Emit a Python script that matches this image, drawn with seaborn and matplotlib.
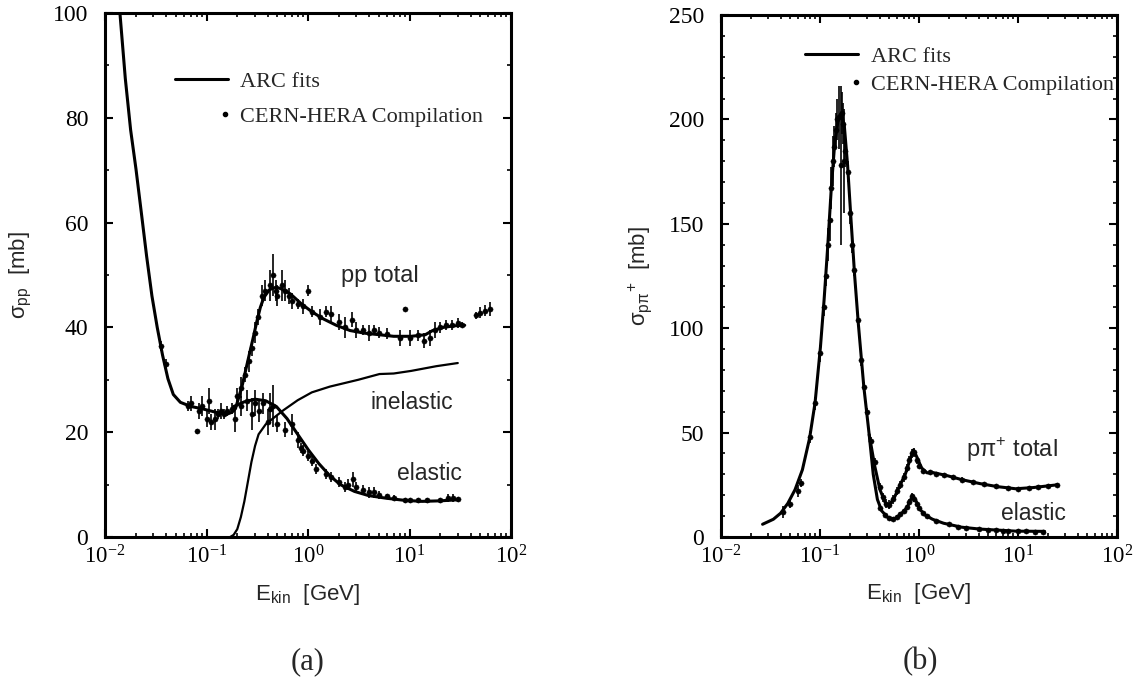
import numpy as np
import pandas as pd
import matplotlib
matplotlib.use("Agg")
import matplotlib.pyplot as plt
import seaborn as sns
from matplotlib.lines import Line2D
from matplotlib.legend_handler import HandlerBase
from matplotlib.ticker import LogLocator, MultipleLocator, NullFormatter

# ---------------- data : panel (a) p-p ----------------
pp_tot_fit_E = [0.01403, 0.01585, 0.01788, 0.0202, 0.0228, 0.0257, 0.0290, 0.0327, 0.0369, 0.0417,
                0.0471, 0.0553, 0.0705, 0.0895, 0.124, 0.157, 0.178, 0.193, 0.209, 0.226,
                0.245, 0.266, 0.289, 0.313, 0.339, 0.367, 0.417, 0.488, 0.57, 0.67,
                0.86, 1.09, 1.39, 1.90, 2.6, 3.6, 5.06, 6.98, 10.4, 14.3,
                16.9, 21.6, 27.5, 35.0]
pp_tot_fit_s = [100.0, 87.5, 77.7, 70.2, 61.9, 53.6, 46.0, 40.0, 34.7, 30.2,
                27.2, 25.7, 24.9, 24.5, 23.8, 23.4, 23.8, 24.5, 26.8, 29.1,
                32.1, 35.1, 38.1, 41.1, 43.8, 45.7, 47.2, 47.7, 47.2, 46.4,
                44.5, 43.0, 41.7, 40.4, 39.4, 38.9, 38.6, 38.3, 38.3, 38.6,
                39.4, 40.0, 40.3, 40.4]

pp_el_fit_E = [0.185, 0.236, 0.301, 0.383, 0.488, 0.621, 0.791, 1.01, 1.28, 1.64,
               2.08, 2.87, 3.96, 5.90, 8.9, 13.3, 19.9, 29.9]
pp_el_fit_s = [24.9, 25.8, 26.3, 26.0, 24.9, 22.6, 19.6, 16.6, 14.0, 11.7,
               10.0, 8.7, 7.9, 7.4, 7.0, 6.8, 6.9, 7.1]

pp_inel_fit_E = [0.171, 0.185, 0.201, 0.218, 0.236, 0.256, 0.277, 0.301, 0.326, 0.383,
                 0.450, 0.573, 0.791, 1.09, 1.64, 3.12, 5.06, 6.98, 10.4, 18.4, 29.9]
pp_inel_fit_s = [0.0, 0.4, 1.5, 3.8, 6.8, 10.6, 14.3, 17.4, 19.6, 21.5,
                 22.6, 24.2, 26.1, 27.6, 28.7, 30.0, 31.1, 31.2, 31.7, 32.6, 33.2]

pp_tot_E = [0.0355, 0.040, 0.065, 0.070, 0.080, 0.085, 0.090, 0.100, 0.105, 0.110,
            0.120, 0.130, 0.140, 0.150, 0.160, 0.180, 0.190, 0.20, 0.22, 0.24,
            0.26, 0.28, 0.30, 0.32, 0.35, 0.38, 0.42, 0.45, 0.48, 0.50,
            0.55, 0.60, 0.65, 0.70, 0.80, 0.90, 1.00, 1.10, 1.30, 1.50,
            1.70, 2.00, 2.30, 2.70, 3.00, 3.50, 4.00, 4.50, 5.00, 6.00,
            8.00, 9.00, 10.0, 12.0, 14.0, 16.0, 18.0, 20.0, 23.0, 26.0,
            30.0, 33.0, 45.0, 50.0, 55.0, 62.0]
pp_tot_s = [36.5, 33.0, 25.0, 25.5, 20.2, 24.0, 25.0, 22.5, 26.0, 22.0,
            22.5, 23.5, 24.0, 23.5, 24.0, 24.5, 22.5, 27.0, 28.5, 31.0,
            33.5, 36.0, 39.0, 42.0, 46.0, 47.0, 48.0, 50.0, 47.0, 46.0,
            48.0, 47.0, 46.0, 45.0, 44.5, 44.0, 47.0, 43.0, 42.0, 43.0,
            42.5, 41.0, 40.0, 41.5, 39.5, 39.5, 39.0, 39.5, 39.0, 38.8,
            38.0, 43.5, 38.0, 38.5, 37.5, 38.0, 39.5, 40.0, 40.5, 40.5,
            40.8, 40.5, 42.3, 42.8, 43.2, 43.5]
pp_tot_err = [1.0, 1.0, 1.0, 1.5, 0.5, 1.5, 2.0, 1.5, 2.5, 1.5,
              2.0, 1.0, 1.5, 1.0, 1.0, 1.0, 2.5, 1.5, 2.0, 1.5,
              2.0, 1.5, 2.0, 1.5, 2.0, 2.0, 3.0, 4.0, 2.0, 2.0,
              3.0, 2.0, 1.5, 1.5, 1.0, 1.5, 1.0, 1.0, 1.5, 1.0,
              1.5, 1.5, 2.0, 1.5, 1.5, 1.0, 1.5, 1.0, 1.0, 1.0,
              1.5, 0.4, 1.5, 1.0, 1.5, 1.5, 1.5, 1.0, 1.0, 1.0,
              1.0, 0.5, 0.7, 1.0, 1.0, 1.3]

pp_el_E = [0.22, 0.25, 0.28, 0.30, 0.33, 0.36, 0.40, 0.42, 0.45, 0.50,
           0.60, 0.70, 0.80, 0.85, 0.90, 1.00, 1.10, 1.20, 1.50, 1.70,
           2.00, 2.30, 2.50, 2.80, 3.00, 3.50, 4.00, 4.50, 5.00, 6.00,
           7.00, 9.00, 10.0, 12.0, 15.0, 20.0, 24.0, 27.0, 30.0]
pp_el_s = [25.0, 26.0, 23.5, 25.5, 24.0, 25.5, 22.0, 24.5, 25.0, 21.5,
           20.5, 21.5, 18.5, 17.0, 16.5, 15.5, 14.5, 13.0, 12.0, 11.5,
           10.5, 9.5, 10.0, 11.0, 9.5, 9.0, 8.5, 8.5, 8.0, 7.8,
           7.5, 7.0, 7.0, 7.0, 7.0, 7.0, 7.5, 7.5, 7.2]
pp_el_err = [2.0, 2.0, 3.0, 2.5, 2.0, 2.0, 2.5, 3.0, 4.0, 1.5,
             1.5, 2.0, 1.5, 1.0, 1.0, 1.0, 1.0, 1.0, 1.0, 1.0,
             1.0, 1.0, 1.0, 1.5, 1.0, 1.0, 1.0, 1.0, 0.7, 0.5,
             0.5, 0.5, 0.5, 0.5, 0.5, 0.5, 0.8, 0.8, 0.5]

# ---------------- data : panel (b) p-pi+ ----------------
ppi_tot_fit_E = [0.0263, 0.0338, 0.040, 0.0473, 0.056, 0.0664, 0.0785, 0.0892, 0.101, 0.110,
                 0.120, 0.130, 0.141, 0.154, 0.164, 0.176, 0.190, 0.206, 0.224, 0.244,
                 0.277, 0.314, 0.357, 0.403, 0.459, 0.50, 0.565, 0.64, 0.73, 0.81,
                 0.88, 0.96, 1.06, 1.21, 1.37, 1.92, 2.69, 4.1, 6.24, 9.5,
                 14.4, 25.0]
ppi_tot_fit_s = [6.1, 8.5, 11.4, 16.1, 22.7, 32.2, 47.3, 64.4, 90.9, 113.6,
                 140.0, 167.0, 189.0, 201.0, 203.0, 197.0, 178.0, 151.5, 125.0, 102.0,
                 72.0, 49.0, 34.0, 22.7, 16.1, 15.2, 19.0, 24.6, 30.3, 37.0,
                 41.7, 37.9, 33.1, 30.7, 30.9, 29.4, 27.5, 25.6, 24.1, 23.1,
                 23.7, 25.0]

ppi_el_fit_E = [0.314, 0.345, 0.38, 0.42, 0.48, 0.52, 0.59, 0.67, 0.76, 0.86,
                0.94, 1.02, 1.16, 1.37, 1.77, 2.69, 4.1, 9.5, 18.5]
ppi_el_fit_s = [49.0, 30.0, 18.0, 12.5, 9.5, 8.5, 9.1, 11.4, 14.2, 19.9,
                17.0, 13.3, 10.4, 8.5, 6.6, 4.7, 3.8, 2.8, 2.7]

ppi_tot_E = [0.042, 0.050, 0.060, 0.065, 0.080, 0.090, 0.100, 0.110, 0.115, 0.120,
             0.125, 0.130, 0.135, 0.140, 0.145, 0.150, 0.155, 0.162, 0.165, 0.170,
             0.175, 0.180, 0.190, 0.200, 0.210, 0.220, 0.240, 0.260, 0.280, 0.300,
             0.330, 0.360, 0.400, 0.430, 0.460, 0.500, 0.550, 0.600, 0.650, 0.700,
             0.750, 0.800, 0.850, 0.900, 0.950, 1.00, 1.10, 1.30, 1.50, 1.80,
             2.20, 2.70, 3.50, 4.50, 6.00, 8.00, 10.0, 13.0, 16.0, 20.0, 25.0]
ppi_tot_s = [12.0, 16.0, 22.0, 26.0, 48.0, 64.0, 88.0, 110.0, 125.0, 140.0,
             152.0, 167.0, 180.0, 187.0, 195.0, 200.0, 201.0, 178.0, 203.0, 198.0,
             180.0, 185.0, 175.0, 155.0, 140.0, 128.0, 104.0, 85.0, 72.0, 60.0,
             46.0, 36.0, 24.0, 19.0, 16.0, 15.5, 18.0, 22.0, 25.0, 28.5,
             33.0, 37.0, 40.0, 40.5, 37.0, 34.0, 31.5, 31.0, 30.0, 29.5,
             28.5, 27.5, 26.5, 25.5, 24.2, 23.5, 23.0, 23.5, 24.0, 24.5, 25.0]
ppi_tot_err = [3.0, 2.0, 3.0, 2.0, 3.0, 3.0, 4.0, 4.0, 5.0, 8.0,
               10.0, 10.0, 12.0, 10.0, 8.0, 10.0, 15.0, 38.0, 10.0, 10.0,
               25.0, 8.0, 5.0, 5.0, 4.0, 3.0, 3.0, 3.0, 2.0, 2.0,
               2.0, 2.0, 2.0, 2.0, 2.0, 2.0, 2.0, 2.0, 2.0, 2.0,
               2.0, 2.0, 2.0, 2.0, 2.0, 1.0, 1.0, 1.0, 1.0, 1.0,
               1.0, 1.0, 1.0, 1.0, 1.0, 0.7, 0.7, 0.7, 0.7, 0.7, 0.7]

ppi_el_E = [0.40, 0.45, 0.50, 0.55, 0.60, 0.65, 0.70, 0.75, 0.80, 0.85,
            0.90, 0.95, 1.00, 1.10, 1.20, 1.50, 2.00, 2.50, 3.00, 4.00,
            5.00, 6.00, 7.00, 8.00, 10.0, 12.0, 15.0, 18.0]
ppi_el_s = [14.0, 10.5, 9.0, 8.8, 9.5, 11.0, 12.5, 14.5, 17.0, 19.5,
            18.0, 16.0, 14.0, 11.5, 10.0, 7.5, 6.0, 5.0, 4.5, 4.0,
            3.5, 3.3, 3.0, 3.0, 2.8, 2.7, 2.6, 2.5]
ppi_el_err = [1.0, 1.0, 1.0, 1.0, 1.0, 1.0, 1.0, 1.0, 1.0, 1.5,
              1.0, 1.0, 1.0, 1.0, 1.0, 0.7, 0.5, 0.5, 0.5, 0.5,
              0.5, 0.5, 0.5, 0.5, 0.5, 0.5, 0.5, 0.5]

legend_labels = ["ARC fits", "CERN-HERA Compilation"]

# ---------------- style ----------------
sns.set_theme(style="ticks")
plt.rcParams.update({
    "font.family": ["Liberation Sans", "DejaVu Sans"],
    "axes.linewidth": 2.0,
    "axes.edgecolor": "black",
    "xtick.direction": "in", "ytick.direction": "in",
    "xtick.top": True, "ytick.right": True,
    "xtick.major.size": 6, "xtick.minor.size": 3,
    "ytick.major.size": 6, "ytick.minor.size": 3,
    "xtick.major.width": 1.5, "xtick.minor.width": 1.2,
    "ytick.major.width": 1.5, "ytick.minor.width": 1.2,
    "xtick.color": "black", "ytick.color": "black",
})

SERIF = "Liberation Serif"
SANS = "Liberation Sans"

W, H = 1134, 685
fig = plt.figure(figsize=(W / 100, H / 100), dpi=100)
fig.patch.set_facecolor("white")
axA = fig.add_axes([105 / W, 148 / H, 406 / W, 524 / H])
axB = fig.add_axes([721 / W, 148 / H, 396 / W, 522 / H])


class RightDot(HandlerBase):
    def create_artists(self, legend, orig_handle, xdescent, ydescent,
                       width, height, fontsize, trans):
        art = Line2D([width - xdescent - 2], [height / 2 - ydescent], ls="none",
                     marker="o", ms=3, color="black")
        art.set_transform(trans)
        return [art]


def fit_line(ax, E, s, lw):
    df = pd.DataFrame({"E": E, "s": s})
    sns.lineplot(data=df, x="E", y="s", ax=ax, color="black", lw=lw,
                 sort=False, estimator=None)


def data_pts(ax, E, s, err):
    ax.errorbar(E, s, yerr=err, fmt="none", ecolor="black", elinewidth=1.2, capsize=0)
    sns.scatterplot(x=E, y=s, ax=ax, color="black", s=14, edgecolor="black", linewidth=0.3)


def style_axis(ax, ymax, ystep, yminor):
    ax.set_xscale("log")
    ax.set_xlim(1e-2, 1e2)
    ax.set_ylim(0, ymax)
    ax.yaxis.set_major_locator(MultipleLocator(ystep))
    ax.yaxis.set_minor_locator(MultipleLocator(yminor))
    ax.xaxis.set_major_locator(LogLocator(base=10, numticks=10))
    ax.xaxis.set_minor_locator(LogLocator(base=10, subs=np.arange(2, 10), numticks=20))
    ax.xaxis.set_minor_formatter(NullFormatter())
    ax.tick_params(axis="x", which="major", labelsize=16.5, pad=6, labelfontfamily=SERIF)
    ax.tick_params(axis="y", which="major", labelsize=17, pad=12, labelfontfamily=SERIF)
    for sp in ax.spines.values():
        sp.set_linewidth(2.2)
        sp.set_color("black")
    ax.set_xlabel(r"E$_{\mathdefault{kin}}$  [GeV]", fontsize=16, family=SANS)
    ax.xaxis.set_label_coords(0.5, -0.085)


def add_legend(ax, x, y, spacing):
    h_line = Line2D([], [], color="black", lw=2.2)
    h_dot = Line2D([], [], ls="none", marker="o", color="black", ms=3)
    leg = ax.legend([h_line, h_dot], legend_labels, loc="upper left",
                    bbox_to_anchor=(x, y), frameon=False, borderpad=0, borderaxespad=0,
                    handlelength=2.4, handletextpad=0.55, labelspacing=spacing,
                    prop={"family": SERIF, "size": 16},
                    handler_map={h_dot: RightDot()})
    return leg


# ---------------- panel (a) ----------------
fit_line(axA, pp_tot_fit_E, pp_tot_fit_s, 2.2)
fit_line(axA, pp_el_fit_E, pp_el_fit_s, 2.2)
fit_line(axA, pp_inel_fit_E, pp_inel_fit_s, 1.6)
data_pts(axA, pp_tot_E, pp_tot_s, pp_tot_err)
data_pts(axA, pp_el_E, pp_el_s, pp_el_err)
style_axis(axA, 100, 20, 10)
axA.set_ylabel(r"σ$_{\mathdefault{pp}}$  [mb]", fontsize=16, family=SANS)
axA.yaxis.set_label_coords(-0.175, 0.5)
axA.text(5.06, 49.8, "pp total", fontsize=17, family=SANS, ha="center", va="center")
axA.text(10.5, 25.7, "inelastic", fontsize=16.5, family=SANS, ha="center", va="center")
axA.text(15.6, 12.1, "elastic", fontsize=16.5, family=SANS, ha="center", va="center")
add_legend(axA, 0.172, 0.888, 0.62)

# ---------------- panel (b) ----------------
fit_line(axB, ppi_tot_fit_E, ppi_tot_fit_s, 2.2)
fit_line(axB, ppi_el_fit_E, ppi_el_fit_s, 2.2)
data_pts(axB, ppi_tot_E, ppi_tot_s, ppi_tot_err)
data_pts(axB, ppi_el_E, ppi_el_s, ppi_el_err)
style_axis(axB, 250, 50, 10)
axB.set_ylabel(r"σ$_{\mathdefault{p\pi}}$$^{\mathdefault{+}}$  [mb]", fontsize=16, family=SANS)
axB.yaxis.set_label_coords(-0.168, 0.5)
axB.text(8.7, 41.7, r"pπ$^{\mathdefault{+}}$ total", fontsize=17, family=SANS, ha="center", va="center")
axB.text(14.4, 11.4, "elastic", fontsize=16.5, family=SANS, ha="center", va="center")
add_legend(axB, 0.2125, 0.94, 0.35)

# ---------------- panel labels ----------------
fig.text(308 / W, 1 - 662 / H, "(a)", fontsize=22, family=SERIF, ha="center", va="center")
fig.text(920 / W, 1 - 662 / H, "(b)", fontsize=22, family=SERIF, ha="center", va="center")

fig.savefig("out.png", dpi=100, facecolor="white")
